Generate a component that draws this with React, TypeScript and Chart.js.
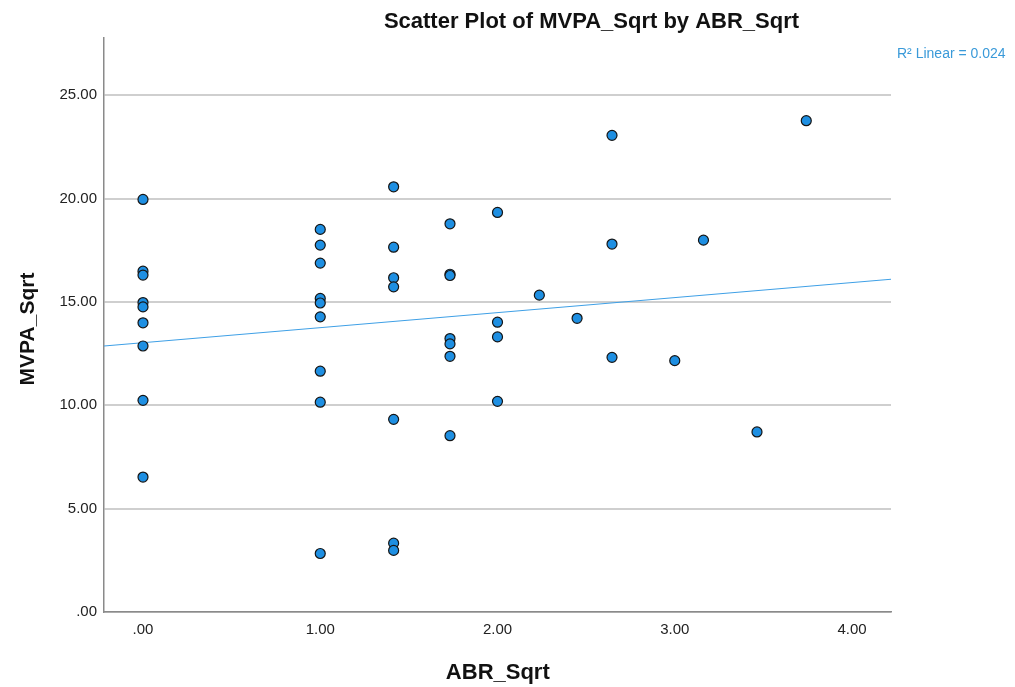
import React, { useEffect, useRef } from "react";
import { Chart, registerables } from "chart.js";

Chart.register(...registerables);

// ABR_Sqrt (x) and MVPA_Sqrt (y) values
const abrSqrt: number[] = [
  0, 0, 0, 0, 0, 0, 0, 0, 0,
  1, 1, 1, 1, 1, 1, 1, 1, 1,
  1.414, 1.414, 1.414, 1.414, 1.414, 1.414, 1.414,
  1.732, 1.732, 1.732, 1.732, 1.732, 1.732, 1.732,
  2, 2, 2, 2,
  2.236,
  2.449,
  2.646, 2.646, 2.646,
  3,
  3.162,
  3.464,
  3.742,
];
const mvpaSqrt: number[] = [
  19.96, 16.49, 16.3, 14.97, 14.76, 13.99, 12.87, 10.24, 6.53,
  18.51, 17.75, 16.88, 15.17, 14.95, 14.28, 11.65, 10.15, 2.83,
  20.57, 17.65, 16.17, 15.73, 9.32, 3.33, 2.98,
  18.78, 16.34, 16.28, 13.23, 12.97, 12.37, 8.53,
  19.33, 14.02, 13.31, 10.19,
  15.33,
  14.21,
  23.06, 17.8, 12.32,
  12.16,
  17.99,
  8.71,
  23.77,
];

const xTicks: number[] = [0, 1, 2, 3, 4];
const yTicks: number[] = [0, 5, 10, 15, 20, 25];
const xRange: number[] = [-0.22, 4.22];
const yRange: number[] = [0, 27.77];

// Linear fit line
const fitIntercept = 13.03;
const fitSlope = 0.727;
const rSquaredLabel = "R\u00B2 Linear = 0.024";

const TITLE = "Scatter Plot of MVPA_Sqrt by ABR_Sqrt";
const X_TITLE = "ABR_Sqrt";
const Y_TITLE = "MVPA_Sqrt";

const FONT = '"Liberation Sans", Arial, Helvetica, sans-serif';

const fmt = (v: number) => (v === 0 ? ".00" : v.toFixed(2));

const textPlugin = {
  id: "customText",
  afterDraw(chart: any) {
    const ctx = chart.ctx as CanvasRenderingContext2D;
    ctx.save();
    ctx.fillStyle = "#111";
    ctx.textBaseline = "alphabetic";
    ctx.textAlign = "center";
    ctx.font = `bold 22px ${FONT}`;
    ctx.fillText(TITLE, 591.5, 28);

    ctx.font = `bold 22px ${FONT}`;
    ctx.fillText(X_TITLE, 497.8, 679);

    ctx.save();
    ctx.translate(34, 329);
    ctx.rotate(-Math.PI / 2);
    ctx.font = `bold 21px ${FONT}`;
    ctx.fillText(Y_TITLE, 0, 0);
    ctx.restore();

    ctx.textAlign = "left";
    ctx.fillStyle = "#3a9ad9";
    ctx.font = `14px ${FONT}`;
    ctx.fillText(rSquaredLabel, 897, 58);
    ctx.restore();
  },
};

export default function App() {
  const ref = useRef<HTMLCanvasElement | null>(null);

  useEffect(() => {
    if (!ref.current) return;
    const points = abrSqrt.map((x, i) => ({ x, y: mvpaSqrt[i] }));
    const fitLine = xRange.map((x) => ({ x, y: fitIntercept + fitSlope * x }));

    const chart = new Chart(ref.current, {
      type: "scatter",
      data: {
        datasets: [
          {
            type: "scatter",
            data: points,
            backgroundColor: "#1e8fe2",
            borderColor: "#151515",
            borderWidth: 1.2,
            pointRadius: 5,
            pointHoverRadius: 5,
          },
          {
            type: "line",
            data: fitLine,
            borderColor: "#3fa0e6",
            borderWidth: 1.2,
            pointRadius: 0,
            fill: false,
          },
        ],
      } as any,
      options: {
        animation: false,
        responsive: false,
        maintainAspectRatio: false,
        devicePixelRatio: 1,
        layout: { padding: { left: 0, right: 124, top: 38, bottom: 0 } },
        plugins: {
          legend: { display: false },
          title: { display: false },
          tooltip: { enabled: false },
        },
        scales: {
          x: {
            type: "linear",
            min: xRange[0],
            max: xRange[1],
            afterBuildTicks: (scale: any) => {
              scale.ticks = xTicks.map((v) => ({ value: v }));
            },
            afterFit: (scale: any) => {
              scale.height = 75;
            },
            grid: { display: false, drawTicks: false },
            border: { display: true, color: "#8a8a8a", width: 1.5 },
            ticks: {
              padding: 9,
              color: "#222",
              font: { family: FONT, size: 15 },
              callback: (v: any) => fmt(Number(v)),
              maxRotation: 0,
              autoSkip: false,
            },
          },
          y: {
            type: "linear",
            min: yRange[0],
            max: yRange[1],
            afterBuildTicks: (scale: any) => {
              scale.ticks = yTicks.map((v) => ({ value: v }));
            },
            afterFit: (scale: any) => {
              scale.width = 104;
            },
            grid: { display: true, drawTicks: false, color: "#cfcfcf", lineWidth: 2 },
            border: { display: true, color: "#8a8a8a", width: 1.5 },
            ticks: {
              padding: 7,
              color: "#222",
              font: { family: FONT, size: 15 },
              callback: (v: any) => fmt(Number(v)),
              autoSkip: false,
            },
          },
        },
      },
      plugins: [textPlugin],
    } as any);
    return () => chart.destroy();
  }, []);

  return (
    <div style={{ position: "absolute", left: 0, top: 0, width: 1015, height: 687, background: "#fff" }}>
      <canvas ref={ref} width={1015} height={687} style={{ display: "block" }} />
    </div>
  );
}
